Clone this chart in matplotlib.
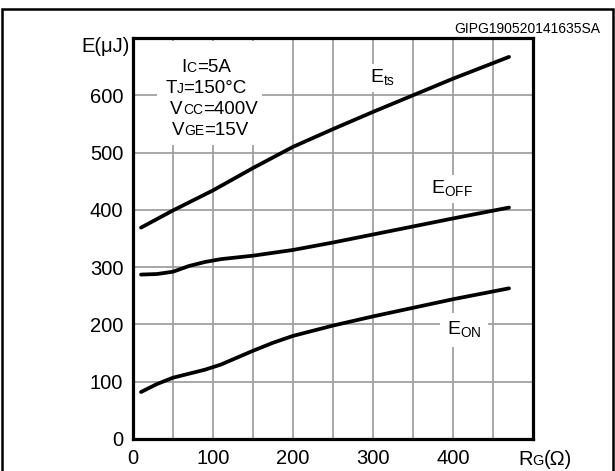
import matplotlib
matplotlib.use("Agg")
import matplotlib.pyplot as plt
from matplotlib.patches import Rectangle

plt.rcParams['font.family'] = ['Liberation Sans', 'DejaVu Sans']

# Data
rg_off = [10, 30, 50, 70, 90, 110, 150, 200, 250, 300, 350, 400, 470]
e_off = [287, 288, 292, 302, 309, 314, 320, 330, 343, 357, 371, 385, 404]
rg_on = [10, 30, 50, 70, 90, 110, 130, 150, 175, 200, 250, 300, 350, 400, 470]
e_on = [82, 96, 107, 114, 121, 130, 142, 154, 168, 180, 198, 214, 229, 244, 263]
rg_ts = [10, 50, 100, 150, 200, 250, 300, 350, 400, 470]
e_ts = [369, 399, 434, 473, 510, 541, 571, 600, 629, 667]

x_ticks = [0, 100, 200, 300, 400]
y_ticks = [0, 100, 200, 300, 400, 500, 600]

W, H = 615, 471
fig = plt.figure(figsize=(W / 100, H / 100), dpi=100)
ax = fig.add_axes([133 / W, (H - 439) / H, 400 / W, 401 / H])
ax.set_xlim(0, 500)
ax.set_ylim(0, 700)

# grid
for xv in range(50, 500, 50):
    ax.axvline(xv, color='#a0a0a0', lw=1.3, zorder=1)
for yv in range(100, 700, 100):
    ax.axhline(yv, color='#a0a0a0', lw=1.3, zorder=1)

# white area behind conditions block
ax.add_patch(Rectangle((30, 513), 131, 182, facecolor='white', edgecolor='none', zorder=2))

lw = 2.7
ax.plot(rg_ts, e_ts, color='black', lw=lw, zorder=4, solid_capstyle='round')
ax.plot(rg_off, e_off, color='black', lw=lw, zorder=4, solid_capstyle='round')
ax.plot(rg_on, e_on, color='black', lw=lw, zorder=4, solid_capstyle='round')

for sp in ax.spines.values():
    sp.set_linewidth(2.3)
    sp.set_zorder(5)

ax.set_xticks(x_ticks)
ax.set_yticks(y_ticks)
ax.set_xticklabels([str(v) for v in x_ticks])
ax.set_yticklabels([str(v) for v in y_ticks])
ax.tick_params(length=0, labelsize=14.5, pad=7)

bb = dict(facecolor='white', edgecolor='none', pad=3)
ax.text(312, 630, r'E$_{\mathregular{ts}}$', fontsize=14, ha='center', va='center', bbox=bb, zorder=3)
ax.text(399, 436, r'E$_{\mathregular{OFF}}$', fontsize=14, ha='center', va='center', bbox=bb, zorder=3)
ax.text(414, 190, r'E$_{\mathregular{ON}}$', fontsize=14, ha='center', va='center', bbox=dict(facecolor='white', edgecolor='none', pad=5), zorder=3)

# figure-level texts
def fx(x):
    return x / W

def fy(y):
    return 1 - y / H

fig.text(fx(130), fy(47), 'E(μJ)', fontsize=14.5, ha='right', va='center')
fig.text(fx(600), fy(29), 'GIPG190520141635SA', fontsize=10, ha='right', va='center')

def chain(xc, ybase, parts):
    texts = [fig.text(0, 0, s, fontsize=fs, ha='left', va='baseline', zorder=6) for s, fs in parts]
    fig.canvas.draw()
    r = fig.canvas.get_renderer()
    widths = [t.get_window_extent(r).width for t in texts]
    x = xc - sum(widths) / 2
    for t, w in zip(texts, widths):
        t.set_position((fx(x), fy(ybase)))
        x += w

big, small = 13.5, 10
chain(206, 72, [('I', big), ('C', small), ('=5A', big)])
chain(206, 93, [('T', big), ('J', small), ('=150°C', big)])
chain(214, 114, [('V', big), ('CC', small), ('=400V', big)])
chain(210, 135, [('V', big), ('GE', small), ('=15V', big)])
chain(545, 465, [('R', 14.5), ('G', 10.5), ('(Ω)', 14.5)])

# outer frame
fig.add_artist(Rectangle((1.5 / W, -0.05), (611 / W), 1.05 - 9 / H,
                         transform=fig.transFigure, facecolor='none',
                         edgecolor='black', lw=1.8, clip_on=False))

fig.savefig('out.png', dpi=100)
